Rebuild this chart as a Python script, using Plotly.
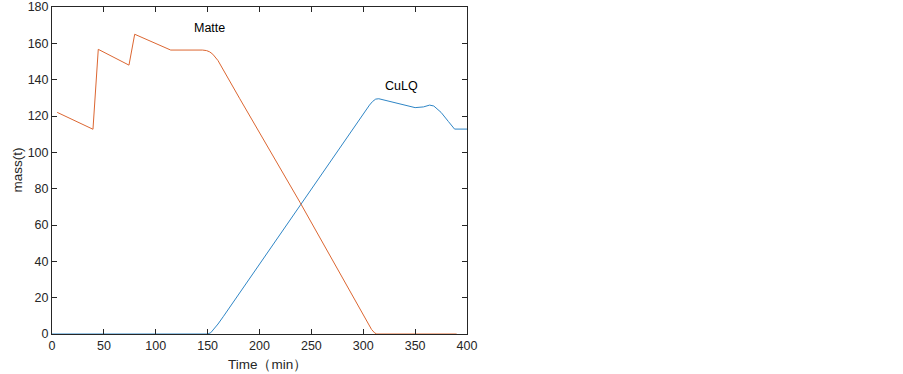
import plotly.graph_objects as go

# Matte (orange)
matte_time = [5, 39.5, 44.6, 59, 74.2, 79.7, 114.4, 145, 149, 152, 155, 160, 181, 239, 300, 305, 308, 311, 313, 390]
matte_mass = [122, 112.7, 156.7, 152.3, 148, 165, 156.3, 156.3, 156.0, 155.3, 154.0, 150.5, 129.5, 72.5, 10.5, 5.5, 2.5, 0.6, 0, 0]

# CuLQ (blue)
culq_time = [0, 150, 153, 156, 160, 165, 194, 240, 300, 306, 309, 312, 315, 330, 350, 358, 364, 368, 375, 382, 388, 400]
culq_mass = [0, 0, 0.7, 2.5, 5.5, 9.5, 33.6, 71.7, 121.5, 126, 128, 129.3, 129.5, 127.3, 124.6, 125, 126, 125.5, 122, 117, 112.8, 112.8]

x_ticks = [0, 50, 100, 150, 200, 250, 300, 350, 400]
y_ticks = [0, 20, 40, 60, 80, 100, 120, 140, 160, 180]

label_text = ["Matte", "CuLQ"]
label_x = [152, 337]
label_y = [168.5, 136.5]

FONT = "Liberation Sans, Arial"

fig = go.Figure()
fig.add_trace(go.Scatter(x=culq_time, y=culq_mass, mode="lines",
                         line=dict(color="#2f86c6", width=1), name="CuLQ"))
fig.add_trace(go.Scatter(x=matte_time, y=matte_mass, mode="lines",
                         line=dict(color="#dc6631", width=1), name="Matte"))

for t, x, y in zip(label_text, label_x, label_y):
    fig.add_annotation(x=x, y=y, text=t, showarrow=False,
                       font=dict(family=FONT, size=12.5, color="#000000"))

# axis titles as annotations for precise placement
fig.add_annotation(x=0.52, y=0, xref="paper", yref="paper", yshift=-30, yanchor="middle",
                   text="Time（min）", showarrow=False,
                   font=dict(family=FONT, size=13.5, color="#262626"))
fig.add_annotation(x=0, y=0.5, xref="paper", yref="paper", xshift=-35, xanchor="center",
                   yanchor="middle", textangle=-90,
                   text="mass(t)", showarrow=False,
                   font=dict(family=FONT, size=13.5, color="#262626"))

axis_common = dict(
    showgrid=False, zeroline=False, showline=True, linecolor="#262626", linewidth=1,
    mirror="allticks", ticks="inside", ticklen=5, tickcolor="#262626", automargin=False,
    ticklabeloverflow="allow",
    tickfont=dict(family=FONT, size=12.5, color="#262626"),
)

fig.update_xaxes(range=[0, 400], tickvals=x_ticks, **axis_common)
fig.update_yaxes(range=[0, 180], tickvals=y_ticks, **axis_common)

fig.update_layout(
    width=903, height=374,
    margin=dict(l=52, r=436, t=7, b=40),
    plot_bgcolor="white", paper_bgcolor="white",
    showlegend=False,
)

fig.write_html("out.html", config={"displayModeBar": False},
               post_script="document.body.style.margin='0';document.body.style.overflow='hidden';")
